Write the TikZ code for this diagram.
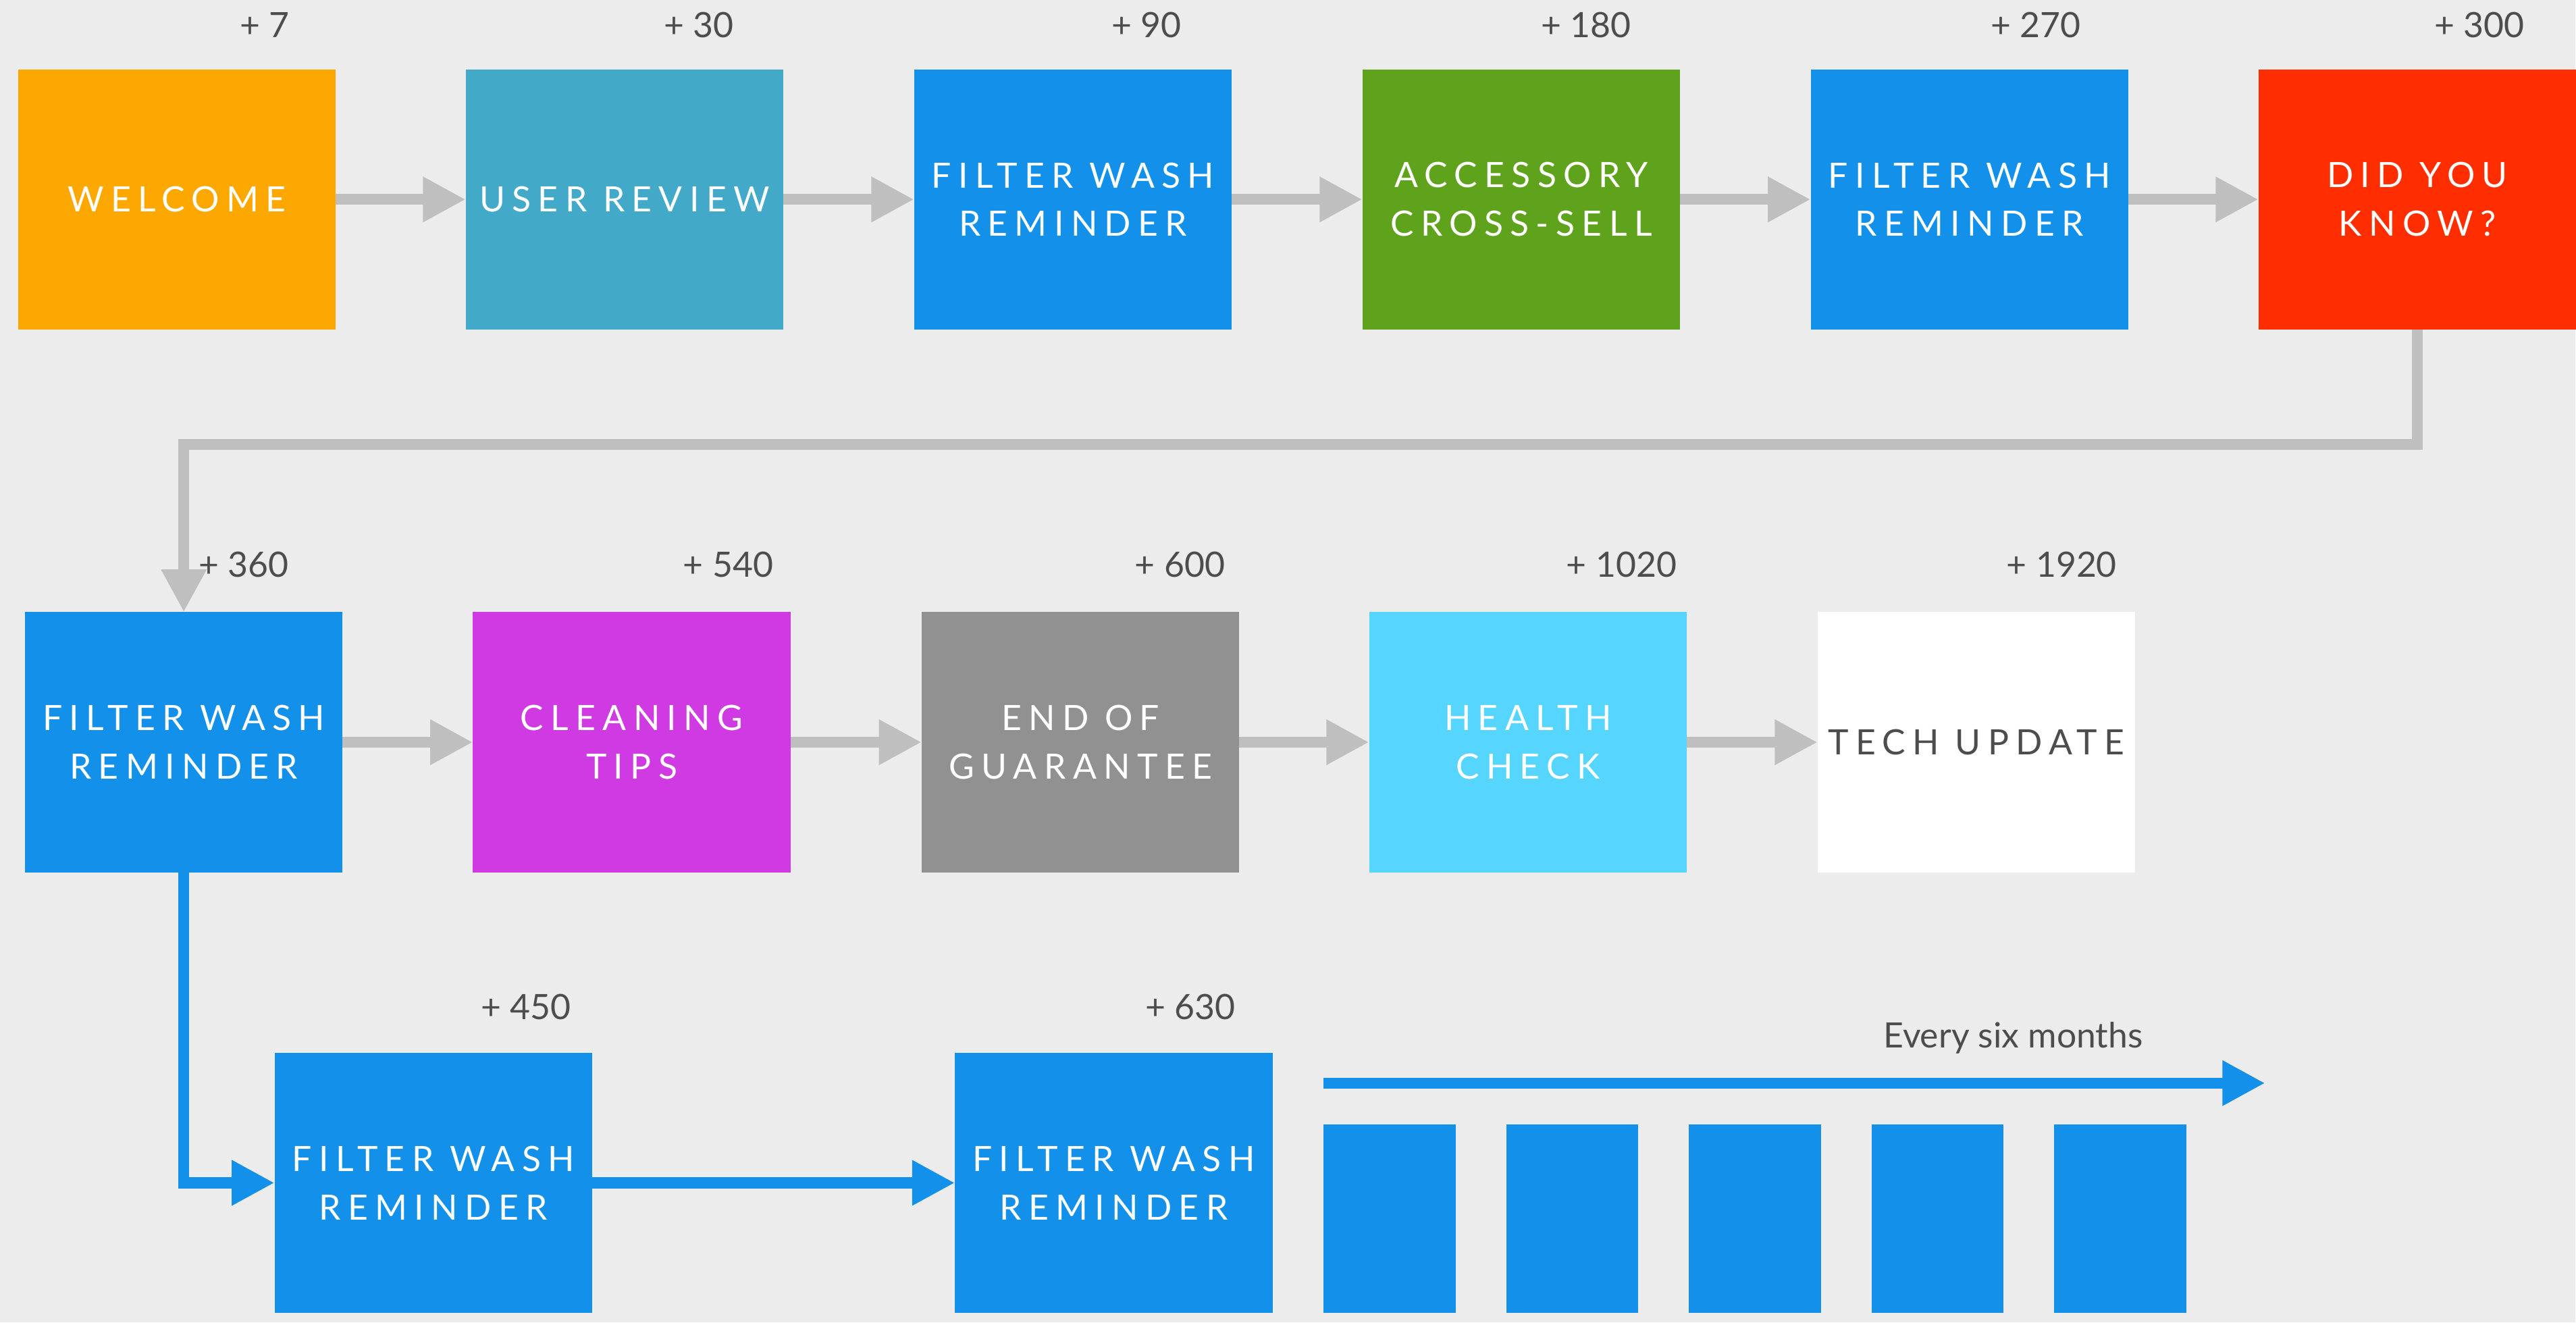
\documentclass[tikz,border=0pt]{standalone}
\usepackage{fontspec}
\setmainfont{Lato}
\newfontfamily\capsfont[LetterSpace=20]{Lato}
\usetikzlibrary{arrows.meta}

\definecolor{paper}{RGB}{236,236,236}
\definecolor{arrowgray}{RGB}{191,191,191}
\definecolor{inkgray}{RGB}{77,77,77}
\definecolor{welcomeorange}{RGB}{253,168,0}
\definecolor{reviewteal}{RGB}{66,169,201}
\definecolor{washblue}{RGB}{18,144,234}
\definecolor{sellgreen}{RGB}{95,163,29}
\definecolor{knowred}{RGB}{255,46,0}
\definecolor{tipsmagenta}{RGB}{207,58,227}
\definecolor{guaranteegray}{RGB}{145,145,145}
\definecolor{healthcyan}{RGB}{86,214,255}

\begin{document}
\begin{tikzpicture}[x=0.02433cm, y=-0.02433cm,
  stage/.style={rectangle, fill=#1, minimum width=4.703cm, minimum height=3.851cm,
    inner sep=0pt, outer sep=0pt, text=white, align=center,
    font=\capsfont\fontsize{14.7pt}{20.4pt}\selectfont},
  cell/.style={rectangle, fill=washblue, minimum width=1.959cm, minimum height=2.798cm,
    inner sep=0pt, outer sep=0pt},
  daylabel/.style={anchor=base east, inner sep=0pt, text=inkgray,
    font=\fontsize{14.7pt}{17pt}\selectfont},
  flow/.style={draw=arrowgray, line width=4.6pt, -{Triangle[length=0.633cm, width=0.63cm]}},
  flowblue/.style={flow, draw=washblue}]
% background
\fill[paper] (0,0) rectangle (1568,805);

% first row
\node[stage=welcomeorange] (welcome) at (107.7,121.4) {WELCOME};
\node[stage=reviewteal] (review) at (380.2,121.4) {USER REVIEW};
\node[stage=washblue] (washA) at (653.2,121.4) {FILTER WASH\\REMINDER};
\node[stage=sellgreen] (sell) at (926.1,121.4) {ACCESSORY\\CROSS-SELL};
\node[stage=washblue] (washB) at (1199,121.4) {FILTER WASH\\REMINDER};
\node[stage=knowred] (know) at (1471.6,121.4) {DID YOU\\KNOW?};

\node[daylabel] (dayA) at (176.5,22.8) {+ 7};
\node[daylabel] (dayB) at (447,22.8) {+ 30};
\node[daylabel] (dayC) at (719.5,22.8) {+ 90};
\node[daylabel] (dayD) at (993.3,22.8) {+ 180};
\node[daylabel] (dayE) at (1267,22.8) {+ 270};
\node[daylabel] (dayF) at (1537,22.8) {+ 300};

% second row
\node[stage=washblue] (washC) at (111.9,451.8) {FILTER WASH\\REMINDER};
\node[stage=tipsmagenta] (tips) at (384.6,451.8) {CLEANING\\TIPS};
\node[stage=guaranteegray] (guarantee) at (657.8,451.8) {END OF\\GUARANTEE};
\node[stage=healthcyan] (health) at (930.2,451.8) {HEALTH\\CHECK};
\node[stage=white, text=inkgray] (tech) at (1203.2,451.8) {TECH UPDATE};

\node[daylabel] (dayG) at (176,351.4) {+ 360};
\node[daylabel] (dayH) at (471,351.4) {+ 540};
\node[daylabel] (dayI) at (746,351.4) {+ 600};
\node[daylabel] (dayJ) at (1021,351.4) {+ 1020};
\node[daylabel] (dayK) at (1289,351.4) {+ 1920};

% third row
\node[stage=washblue] (washD) at (263.8,720) {FILTER WASH\\REMINDER};
\node[stage=washblue] (washE) at (678,720) {FILTER WASH\\REMINDER};

\node[daylabel] (dayL) at (348,620.5) {+ 450};
\node[daylabel] (dayM) at (752.5,620.5) {+ 630};

\foreach \k in {0,...,4}
  \node[cell] (cell\k) at (846+111.2*\k,741.8) {};

\coordinate (runStart) at (805.6,659.3);
\coordinate (runEnd) at (1379,659.3);
\node[daylabel, anchor=base] (every) at (1225.6,637.8) {Every six months};

% connectors
\draw[flow] (welcome) -- (review);
\draw[flow] (review) -- (washA);
\draw[flow] (washA) -- (sell);
\draw[flow] (sell) -- (washB);
\draw[flow] (washB) -- (know);
\draw[flow] (know.south) -- ++(0,70) -| (washC.north);
\draw[flow] (washC) -- (tips);
\draw[flow] (tips) -- (guarantee);
\draw[flow] (guarantee) -- (health);
\draw[flow] (health) -- (tech);

\draw[flowblue] (washC.south) |- (washD.west);
\draw[flowblue] (washD) -- (washE);
\draw[flowblue] (runStart) -- (runEnd);
\end{tikzpicture}
\end{document}
